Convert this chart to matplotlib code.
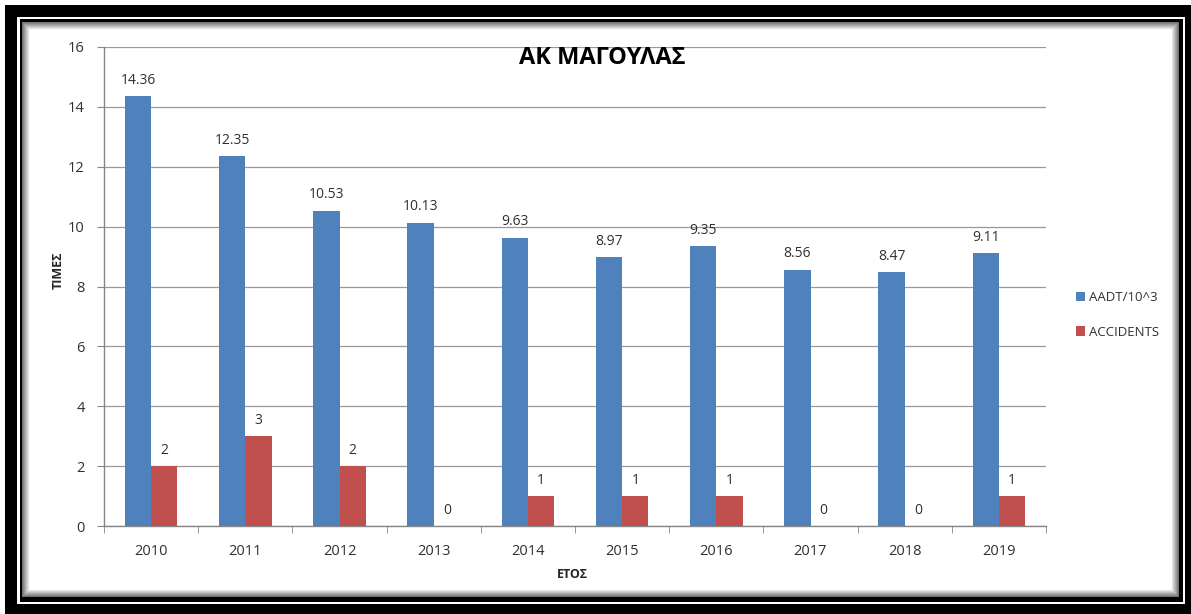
import matplotlib
matplotlib.use("Agg")
import matplotlib.pyplot as plt
from matplotlib.patches import Rectangle
import numpy as np

plt.rcParams['font.family'] = ['Open Sans', 'DejaVu Sans']

years = ['2010', '2011', '2012', '2013', '2014', '2015', '2016', '2017', '2018', '2019']
aadt = [14.36, 12.35, 10.53, 10.13, 9.63, 8.97, 9.35, 8.56, 8.47, 9.11]
accidents = [2, 3, 2, 0, 1, 1, 1, 0, 0, 1]
aadt_labels = ['14.36', '12.35', '10.53', '10.13', '9.63', '8.97', '9.35', '8.56', '8.47', '9.11']
acc_labels = ['2', '3', '2', '0', '1', '1', '1', '0', '0', '1']
series_names = ['AADT/10^3', 'ACCIDENTS']
title = 'ΑΚ ΜΑΓΟΥΛΑΣ'
ylabel = 'ΤΙΜΕΣ'
xlabel = 'ΕΤΟΣ'
yticks = [0, 2, 4, 6, 8, 10, 12, 14, 16]

W, H = 1191, 614
fig = plt.figure(figsize=(W / 100, H / 100), dpi=100)
fig.patch.set_facecolor('white')


def box(x0, y0, x1, y1, color):
    """Rectangle in pixel coordinates measured from the top-left corner."""
    fig.patches.append(Rectangle((x0 / W, 1 - y1 / H), (x1 - x0) / W, (y1 - y0) / H,
                                 transform=fig.transFigure, facecolor=color,
                                 edgecolor='none', zorder=-10))


# picture frame: thick black outer border, thin white gap, thin black line
box(5, 5, 1191, 614, 'black')
box(17, 17, 1185, 604, 'white')
box(20, 19, 1183, 602, 'black')
# soft grey shadow fading into the white chart area
shades = np.linspace(0.45, 0.97, 8)
for i, s in enumerate(shades):
    box(22 + i, 22 + i, 1179 - i, 597 - i, (s, s, s))
box(30, 30, 1172, 590, 'white')

ax = fig.add_axes([104 / W, (H - 526) / H, 942 / W, 479 / H])
ax.set_zorder(5)
ax.set_facecolor('white')

x = np.arange(len(years))
bw = 0.28
blue = '#4F81BD'
red = '#C0504D'
b1 = ax.bar(x - bw / 2, aadt, bw, color=blue, label=series_names[0], zorder=3)
b2 = ax.bar(x + bw / 2, accidents, bw, color=red, label=series_names[1], zorder=3)

for bars, labels in ((b1, aadt_labels), (b2, acc_labels)):
    for rect, lab in zip(bars, labels):
        ax.annotate(lab, (rect.get_x() + rect.get_width() / 2, rect.get_height()),
                    xytext=(0, 6), textcoords='offset points', ha='center', va='bottom',
                    fontsize=10, color='#303030')

ax.set_xlim(-0.5, len(years) - 0.5)
ax.set_ylim(0, 16)
ax.set_yticks(yticks)
ax.set_yticklabels([str(v) for v in yticks], fontsize=10.5, color='#303030')
ax.set_xticks(x)
ax.set_xticklabels(years, fontsize=10.5, color='#303030')
ax.set_xticks(np.arange(-0.5, len(years)), minor=True)
ax.tick_params(axis='x', which='major', length=0, pad=13)
ax.tick_params(axis='x', which='minor', length=5, color='#868686', direction='out')
ax.tick_params(axis='y', length=5, color='#868686', direction='out', pad=9)

ax.grid(axis='y', color='#999999', linewidth=0.9, zorder=0)
ax.set_axisbelow(True)
for side in ['top', 'right']:
    ax.spines[side].set_visible(False)
for side in ['left', 'bottom']:
    ax.spines[side].set_color('#868686')
    ax.spines[side].set_linewidth(1.0)

fig.text(602 / W, 1 - 58 / H, title, ha='center', va='center', fontsize=17,
         fontweight='bold', color='black', zorder=10)
fig.text(58 / W, 1 - 270 / H, ylabel, ha='center', va='center', rotation=90,
         fontsize=9, fontweight='bold', color='#262626')
fig.text(572 / W, 1 - 574 / H, xlabel, ha='center', va='center',
         fontsize=9, fontweight='bold', color='#262626')

leg = fig.legend(handles=[b1, b2], labels=series_names, loc='center left',
                 bbox_to_anchor=(1064 / W, 1 - 315 / H), frameon=False,
                 fontsize=9.5, handlelength=0.7, handleheight=0.7,
                 handletextpad=0.3, labelspacing=1.6, labelcolor='#303030')

fig.savefig('out.png', dpi=100, facecolor='white')
